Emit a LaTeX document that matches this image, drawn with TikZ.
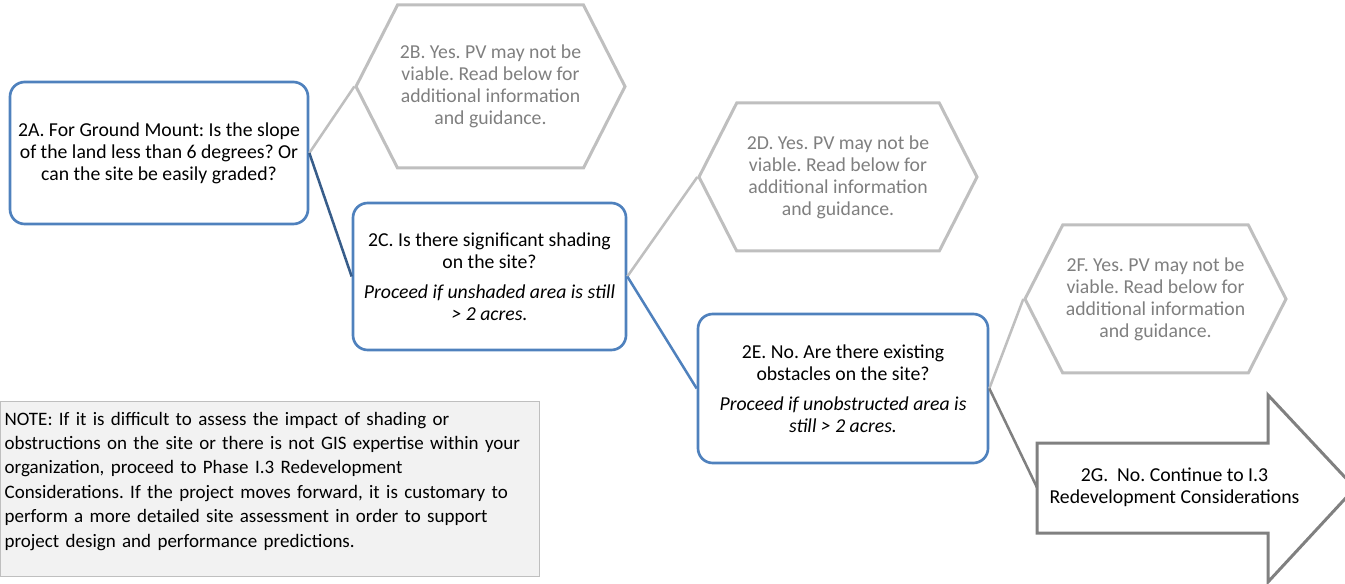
\documentclass[tikz,border=0pt]{standalone}
\usepackage{fontspec}
\setmainfont{Carlito}
\usetikzlibrary{shapes.symbols}
\frenchspacing

\definecolor{boxblue}{HTML}{4F81BD}
\definecolor{darkblue}{HTML}{385D8A}
\definecolor{hexgray}{HTML}{BFBFBF}
\definecolor{textgray}{HTML}{7F7F7F}
\definecolor{arrowgray}{HTML}{808080}
\definecolor{notefill}{HTML}{F2F2F2}

\begin{document}
\begin{tikzpicture}[
    x=0.75pt, y=-0.75pt,
    every node/.style={font=\fontsize{14.8}{16.5}\selectfont},
    question/.style={rectangle, draw=boxblue, line width=2pt, rounded corners=11pt, align=center, inner sep=0pt},
    answer/.style={signal, signal to=west and east, signal pointer angle=126, draw=hexgray, line width=2.25pt, text=textgray, align=center, inner sep=0pt},
    link/.style={line width=1.9pt},
    note/.style={rectangle, draw=hexgray, fill=notefill, line width=0.75pt, text width=398pt, inner xsep=3.1pt, inner ysep=6.7pt, align=left, font=\fontsize{14.25}{18.3}\selectfont},
]
\useasboundingbox (0,0) rectangle (1345,584);

% Nodes
\node [question, minimum width=223.5pt, minimum height=106.5pt] (a) at (159,153) {2A. For Ground Mount: Is the slope\\ of the land less than 6 degrees? Or\\ can the site be easily graded?};
\node [answer, minimum width=201.75pt, minimum height=122.25pt] (b) at (490.5,86.5) {2B. Yes. PV may not be\\ viable. Read below for\\ additional information\\ and guidance.};
\node [question, minimum width=204.75pt, minimum height=110.25pt] (c) at (489.5,276.5) {2C. Is there significant shading\\ on the site?\\[6pt] \textit{Proceed if unshaded area is still}\\ \textit{> 2 acres.}};
\node [answer, minimum width=208.5pt, minimum height=111pt] (d) at (838,177) {2D. Yes. PV may not be\\ viable. Read below for\\ additional information\\ and guidance.};
\node [question, minimum width=217.5pt, minimum height=111.75pt] (e) at (843,388.5) {2E. No. Are there existing\\ obstacles on the site?\\[6pt] \textit{Proceed if unobstructed area is}\\ \textit{still > 2 acres.}};
\node [answer, minimum width=195.75pt, minimum height=111pt] (f) at (1155.5,299) {2F. Yes. PV may not be\\ viable. Read below for\\ additional information\\ and guidance.};

% Arrow 2G
\draw [draw=arrowgray, line width=2.25pt, line join=miter] (1037,443) -- (1268,443) -- (1268,395) -- (1355,488) -- (1268,582) -- (1268,533) -- (1037,533) -- cycle;
\node [align=center] (g) at (1174.5,487.5) {2G.\ \ No. Continue to I.3\\ Redevelopment Considerations};
\coordinate (gtail) at (1037,487.5);

\node [note, anchor=north west, text height=11pt, text depth=106.85pt] (note) at (0,401) {NOTE: If it is difficult to assess the impact of shading or\\ obstructions on the site or there is not GIS expertise within your\\ organization, proceed to Phase I.3 Redevelopment\\ Considerations. If the project moves forward, it is customary to\\ perform a more detailed site assessment in order to support\\ project design and performance predictions.};

% Lines
\draw [link, hexgray] (a.east) -- (b.west);
\draw [link, darkblue] (a.east) -- (c.west);
\draw [link, hexgray] (c.east) -- (d.west);
\draw [link, boxblue] (c.east) -- (e.west);
\draw [link, hexgray] (e.east) -- (f.west);
\draw [link, arrowgray] (e.east) -- (gtail);

\end{tikzpicture}
\end{document}
